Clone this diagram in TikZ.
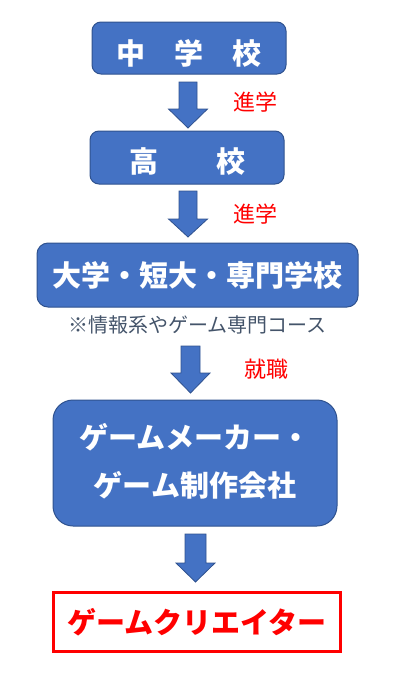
\documentclass[tikz,border=0pt]{standalone}
\usepackage{fontspec}
\newfontfamily\jp{Noto Sans CJK JP}
\usetikzlibrary{positioning}
\definecolor{obox}{HTML}{4472C4}
\definecolor{oline}{HTML}{2F528F}
\definecolor{capc}{HTML}{44546A}
\tikzset{
  bluebox/.style={draw=oline, line width=1pt, fill=obox, rounded corners=9pt, inner sep=0pt},
  boxtext/.style={text=white, font=\jp\bfseries\fontsize{29}{48}\selectfont, align=center, inner sep=0pt},
  redbox/.style={draw=red, line width=3pt, fill=white, text=red,
    font=\jp\bfseries\fontsize{29}{34}\selectfont, inner sep=0pt},
  steplabel/.style={text=red, font=\jp\fontsize{22}{26}\selectfont, inner sep=0pt},
  caption/.style={text=capc, font=\jp\fontsize{20}{24}\selectfont, inner sep=0pt},
  blockarrow/.style={draw=oline, line width=0.8pt, fill=obox, line join=miter}
}
\newcommand{\blockarr}[6]{% x, shaft half, head half, ytop, yhead, ytip
  \draw[blockarrow] (#1-#2,#4) -- (#1+#2,#4) -- (#1+#2,#5) -- (#1+#3,#5)
    -- (#1,#6) -- (#1-#3,#5) -- (#1-#2,#5) -- cycle;}
\begin{document}
\begin{tikzpicture}[x=1pt,y=-1pt]
\useasboundingbox (0,0) rectangle (400,673);
\node[bluebox, minimum width=194pt, minimum height=52pt] (b1) at (189,48) {};
\node[boxtext] (t1) at ([yshift=-5pt]b1.center) {中\hspace{1.0em}学\hspace{1.0em}校};
\node[bluebox, minimum width=194pt, minimum height=53pt] (b2) at (187,157.5) {};
\node[boxtext] (t2) at ([yshift=-4pt]b2.center) {高\hspace{2em}校};
\node[bluebox, minimum width=321pt, minimum height=64pt, rounded corners=11pt] (b3) at (197.5,275) {};
\node[boxtext] (t3) at (b3.center) {大学・短大・専門学校};
\node[bluebox, minimum width=284pt, minimum height=126pt, rounded corners=20pt] (b4) at (195,463) {};
\node[boxtext] (t4) at ([yshift=2pt]b4.center) {ゲームメーカー・\\ゲーム制作会社};
\node[redbox, minimum width=287pt, minimum height=59pt] (b5) at (197,622) {ゲームクリエイター};
\node[caption] (cap) at (197.5,325) {※情報系やゲーム専門コース};
\node[steplabel] (l1) at (255.5,102) {進学};
\node[steplabel] (l2) at (255.5,214) {進学};
\node[steplabel] (l3) at (266.5,369) {就職};
\blockarr{188}{9}{19.5}{82}{109}{128}
\blockarr{188}{9}{19.5}{191}{219}{237}
\blockarr{190.5}{9.5}{19.5}{346}{373}{393}
\blockarr{195.5}{10.5}{19.5}{534}{563}{582}
\end{tikzpicture}
\end{document}
